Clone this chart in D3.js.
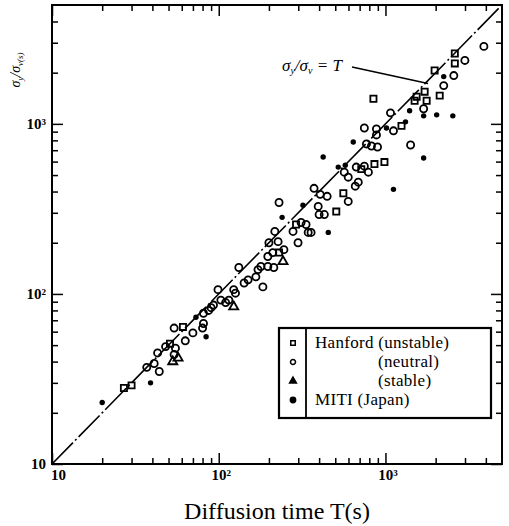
<!DOCTYPE html>
<html>
<head>
<meta charset="utf-8">
<script src="https://cdn.jsdelivr.net/npm/d3@7"></script>
<style>
  body { margin: 0; background: #fff; }
  text { font-family: "Liberation Serif", "DejaVu Serif", serif; fill: #000; }
</style>
</head>
<body>
<svg id="chart" width="509" height="526"></svg>
<script>
// Diffusion time T (s) against sigma_y / sigma_v (s)
const hanfordUnstable = [
  [27, 28], [30, 29], [51, 51], [61, 64], [230, 175], [291, 256], [507, 305],
  [559, 391], [716, 542], [859, 580], [986, 596], [847, 1406], [1248, 973],
  [1538, 1445], [1496, 1368], [2606, 2594], [2606, 2267], [1972, 2061],
  [1718, 1546], [1766, 1368], [2115, 1466]
];
const hanfordNeutral = [
  [37, 37], [41, 39], [44, 35], [43, 45], [48, 49], [54, 44], [55, 48], [63, 53],
  [70, 59], [54, 63], [81, 67], [80, 63], [87, 80], [81, 77], [90, 83], [93, 86],
  [99, 106], [103, 92], [110, 89], [115, 92], [123, 106], [126, 101], [132, 143],
  [142, 116], [150, 121], [167, 126], [184, 110], [172, 139], [179, 145],
  [197, 145], [214, 143], [200, 200], [227, 203], [211, 175], [246, 182],
  [197, 166], [217, 233], [230, 345], [279, 233], [312, 263], [334, 256],
  [344, 230], [358, 230], [299, 200], [373, 418], [406, 385], [447, 375],
  [659, 430], [687, 454], [395, 327], [400, 293], [430, 293], [598, 350],
  [747, 564], [790, 520], [668, 557], [566, 520], [598, 486], [1072, 1161],
  [747, 946], [883, 934], [883, 861], [1117, 910], [1415, 751], [769, 762],
  [824, 741], [896, 731], [3893, 2855], [2994, 2361], [2570, 1923],
  [2236, 1679], [1694, 1227]
];
const hanfordStable = [[53, 40], [57, 42], [123, 84], [243, 155]];
const mitiJapan = [
  [20, 23], [39, 30], [73, 73], [84, 56], [240, 282], [320, 332], [454, 230],
  [521, 557], [574, 571], [423, 638], [641, 782], [1117, 412], [1014, 946],
  [1319, 1028], [1396, 1194], [1694, 1115], [2028, 1130], [2535, 1115],
  [1694, 630], [2236, 1897]
];

const majorTicks = [10, 100, 1000];
const minorTicks = [20, 30, 40, 50, 60, 70, 80, 90, 200, 300, 400, 500, 600, 700, 800, 900, 2000, 3000, 4000];
const xTickLabels = ["10", "10²", "10³"];
const yTickLabels = ["10", "10²", "10³"];
const legendLabels = ["Hanford (unstable)", "(neutral)", "(stable)", "MITI (Japan)"];
const xTitle = "Diffusion time T(s)";

const svg = d3.select("#chart");
const plotLeft = 52, plotRight = 502, plotTop = 5, plotBottom = 464;

const x = d3.scaleLog().domain([10, 5000]).range([plotLeft, plotRight]);
const y = d3.scaleLog().domain([10, 5000]).range([plotBottom, plotTop]);

// Inward ticks on all four sides
function tickAxis(axisFn, scale, values, size, fmt, transform) {
  const a = axisFn(scale).tickValues(values).tickSizeInner(-size).tickSizeOuter(0)
    .tickPadding(5).tickFormat(fmt);
  const g = svg.append("g").attr("transform", transform).call(a);
  g.select(".domain").remove();
  g.selectAll(".tick line").attr("stroke", "#000").attr("stroke-width", 1.5);
  return g;
}
const blank = () => "";
tickAxis(d3.axisBottom, x, minorTicks, 6, blank, `translate(0,${plotBottom})`);
tickAxis(d3.axisTop, x, minorTicks, 6, blank, `translate(0,${plotTop})`);
tickAxis(d3.axisLeft, y, minorTicks, 6, blank, `translate(${plotLeft},0)`);
tickAxis(d3.axisRight, y, minorTicks, 6, blank, `translate(${plotRight},0)`);
tickAxis(d3.axisTop, x, majorTicks, 11, blank, `translate(0,${plotTop})`);
tickAxis(d3.axisRight, y, majorTicks, 11, blank, `translate(${plotRight},0)`);

const xb = tickAxis(d3.axisBottom, x, majorTicks, 11, (d, i) => xTickLabels[i], `translate(0,${plotBottom})`);
xb.selectAll(".tick text")
  .attr("font-size", 15).attr("font-weight", "bold")
  .attr("font-family", "Liberation Serif, serif")
  .attr("dx", (d, i) => i === 0 ? 6 : 2);

const yl = tickAxis(d3.axisLeft, y, majorTicks, 11, (d, i) => yTickLabels[i], `translate(${plotLeft},0)`);
yl.selectAll(".tick text")
  .attr("font-size", 15).attr("font-weight", "bold")
  .attr("font-family", "Liberation Serif, serif")
  .attr("dx", -1);

// Frame
svg.append("rect")
  .attr("x", plotLeft).attr("y", plotTop)
  .attr("width", plotRight - plotLeft).attr("height", plotBottom - plotTop)
  .attr("fill", "none").attr("stroke", "#000").attr("stroke-width", 2);

// Reference line sigma_y / sigma_v = T
const refLine = d3.line().x(d => x(d)).y(d => y(d));
svg.append("path")
  .attr("d", refLine([10, 5000]))
  .attr("fill", "none").attr("stroke", "#000").attr("stroke-width", 1.6)
  .attr("stroke-dasharray", "30,3,2,3");

// Annotation with leader to the reference line
svg.append("line")
  .attr("x1", 352).attr("y1", 67)
  .attr("x2", x(1800)).attr("y2", y(1800) + 3)
  .attr("stroke", "#000").attr("stroke-width", 1.6);
const ann = svg.append("text").attr("x", 282).attr("y", 71)
  .attr("font-size", 17).attr("font-style", "italic");
ann.append("tspan").text("σ");
ann.append("tspan").attr("font-size", 10).attr("dy", 3).text("y");
ann.append("tspan").attr("dy", -3).text("/σ");
ann.append("tspan").attr("font-size", 10).attr("dy", 3).text("v");
ann.append("tspan").attr("dy", -3).text(" = T");

// Markers
const plot = svg.append("g");
function openMarks(data, type, size) {
  plot.selectAll(null).data(data).enter().append("path")
    .attr("transform", d => `translate(${x(d[0])},${y(d[1])})`)
    .attr("d", d3.symbol().type(type).size(size))
    .attr("fill", "none").attr("stroke", "#000").attr("stroke-width", 1.8);
}
openMarks(hanfordUnstable, d3.symbolSquare, 38);
openMarks(hanfordNeutral, d3.symbolCircle, 40);
openMarks(hanfordStable, d3.symbolTriangle, 36);
plot.selectAll(null).data(mitiJapan).enter().append("circle")
  .attr("cx", d => x(d[0])).attr("cy", d => y(d[1]))
  .attr("r", 2.7).attr("fill", "#000");

// Legend
const lg = svg.append("g");
lg.append("rect").attr("x", 279).attr("y", 328).attr("width", 212).attr("height", 90)
  .attr("fill", "#fff").attr("stroke", "#000").attr("stroke-width", 2.2);
lg.append("line").attr("x1", 306).attr("x2", 306).attr("y1", 328).attr("y2", 418)
  .attr("stroke", "#000").attr("stroke-width", 1.8);
const rowsY = [343, 362, 381, 400];
const legendSymbols = [d3.symbolSquare, d3.symbolCircle, d3.symbolTriangle, d3.symbolCircle];
legendSymbols.forEach((s, i) => {
  lg.append("path")
    .attr("transform", `translate(293,${rowsY[i]})`)
    .attr("d", d3.symbol().type(s).size(i === 3 ? 22 : 20))
    .attr("fill", i >= 2 ? "#000" : "none")
    .attr("stroke", "#000").attr("stroke-width", 1.5);
});
lg.selectAll(null).data(legendLabels).enter().append("text")
  .attr("x", (d, i) => (i === 1 || i === 2) ? 378 : 315)
  .attr("y", (d, i) => rowsY[i] + 5)
  .attr("font-size", 17)
  .attr("letter-spacing", 0.3)
  .text(d => d);

// Axis titles
svg.append("text").attr("x", 277).attr("y", 519).attr("text-anchor", "middle")
  .attr("font-size", 24).text(xTitle);

const yt = svg.append("text")
  .attr("transform", "translate(20,70) rotate(-90)")
  .attr("text-anchor", "middle").attr("font-size", 14).attr("font-style", "italic");
yt.append("tspan").text("σ");
yt.append("tspan").attr("font-size", 9).attr("dy", 3).text("y");
yt.append("tspan").attr("dy", -3).text("/σ");
yt.append("tspan").attr("font-size", 9).attr("dy", 3).text("v(s)");
</script>
</body>
</html>
